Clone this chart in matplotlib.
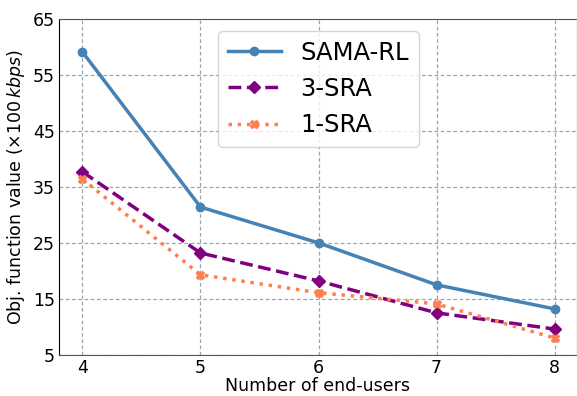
import matplotlib.pyplot as plt

users = [4, 5, 6, 7, 8]
sama_rl = [59.1, 31.4, 25.0, 17.5, 13.2]
sra3 = [37.7, 23.2, 18.2, 12.5, 9.6]
sra1 = [36.4, 19.3, 16.1, 14.1, 8.0]

fig, ax = plt.subplots(figsize=(5.77, 3.96), dpi=100)
fig.subplots_adjust(left=0.102, right=1.0, top=0.952, bottom=0.104)

ax.plot(users, sama_rl, color="steelblue", linestyle="-", marker="o", lw=2.5, ms=6, label="SAMA-RL")
ax.plot(users, sra3, color="purple", linestyle="--", marker="D", lw=2.5, ms=6, label="3-SRA")
ax.plot(users, sra1, color="coral", linestyle=":", marker="X", lw=2.5, ms=6, label="1-SRA")

ax.set_xlim(3.8, 8.19)
ax.set_ylim(5, 65)
ax.set_xticks(users)
ax.set_yticks(range(5, 66, 10))
ax.tick_params(labelsize=12.5, length=0, pad=3)
ax.grid(True, linestyle=(0, (3, 2)), color="#7f8fa0", alpha=0.8, lw=0.9)
for side in ["top", "bottom", "right"]:
    ax.spines[side].set_color("#555555")
ax.set_xlabel("Number of end-users", fontsize=12.5, labelpad=0)
ax.set_ylabel(r"Obj. function value ($\times 100\,kbps$)", fontsize=12.5, labelpad=4)
ax.legend(fontsize=17.5, loc="upper left", bbox_to_anchor=(0.307, 0.964),
          borderaxespad=0, handlelength=2.2, handletextpad=0.8, framealpha=0.8)

plt.savefig("out.png")
